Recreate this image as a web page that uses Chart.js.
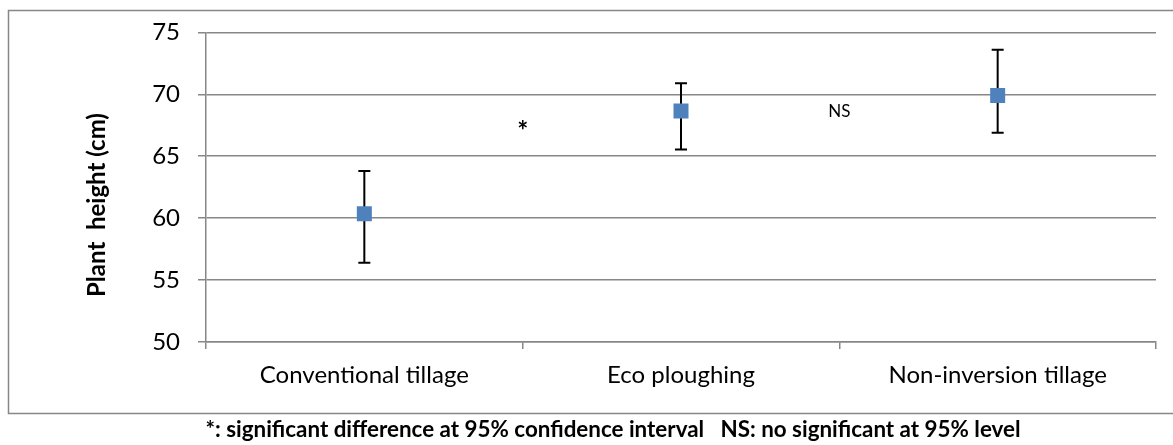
<!DOCTYPE html>
<html>
<head>
<meta charset="utf-8">
<script src="https://cdn.jsdelivr.net/npm/chart.js@4.4.1/dist/chart.umd.min.js"></script>
<style>
  html, body { margin: 0; padding: 0; background: #fff; }
</style>
</head>
<body>
<canvas id="heightChart" width="1173" height="445"></canvas>
<script>
const treatments = ["Conventional tillage", "Eco ploughing", "Non-inversion tillage"];
const meanHeight = [60.35, 68.65, 69.9];
const upperBound = [63.8, 70.9, 73.6];
const lowerBound = [56.4, 65.55, 66.9];
const yTicks = [50, 55, 60, 65, 70, 75];

// significance marks sit between neighbouring treatments
const sigLabels = ["*", "NS"];
const sigAt = [0.5, 1.5];
const sigLevel = [67.4, 68.65];

const yTitle = "Plant  height (cm)";
const footnote = "*: significant difference at 95% confidence interval   NS: no significant at 95% level";

const FONT = "Lato";
const GRID = "#878787";

const errorBars = {
  id: "errorBars",
  beforeDatasetsDraw(chart) {
    const { ctx, scales: { x, y } } = chart;
    ctx.save();
    ctx.strokeStyle = "#000";
    ctx.lineWidth = 2;
    meanHeight.forEach((_, i) => {
      const px = x.getPixelForValue(i);
      const top = y.getPixelForValue(upperBound[i]);
      const bot = y.getPixelForValue(lowerBound[i]);
      ctx.beginPath();
      ctx.moveTo(px, top);
      ctx.lineTo(px, bot);
      ctx.moveTo(px - 6, top);
      ctx.lineTo(px + 6, top);
      ctx.moveTo(px - 6, bot);
      ctx.lineTo(px + 6, bot);
      ctx.stroke();
    });
    ctx.restore();
  },
};

const frameAndNotes = {
  id: "frameAndNotes",
  beforeDraw(chart) {
    const { ctx, width } = chart;
    ctx.save();
    ctx.strokeStyle = GRID;
    ctx.lineWidth = 1.5;
    ctx.strokeRect(8.5, 10.5, width + 10, 403);
    ctx.restore();
  },
  afterDraw(chart) {
    const { ctx, scales: { x, y } } = chart;
    ctx.save();
    ctx.fillStyle = "#000";
    ctx.textAlign = "center";
    ctx.textBaseline = "middle";

    sigLabels.forEach((txt, i) => {
      ctx.font = txt === "*" ? `bold 26px ${FONT}` : `17px ${FONT}`;
      const dy = txt === "*" ? 5 : 0;
      ctx.fillText(txt, x.getPixelForValue(sigAt[i]), y.getPixelForValue(sigLevel[i]) + dy);
    });

    ctx.font = `bold 24px ${FONT}`;
    ctx.save();
    ctx.translate(97, 205);
    ctx.rotate(-Math.PI / 2);
    ctx.fillText(yTitle, 0, 0);
    ctx.restore();

    ctx.font = `bold 22.4px ${FONT}`;
    ctx.fillText(footnote, 613, 430);
    ctx.restore();
  },
};

new Chart(document.getElementById("heightChart"), {
  type: "line",
  data: {
    labels: treatments,
    datasets: [
      {
        data: meanHeight,
        showLine: false,
        pointStyle: "rect",
        pointRadius: 10.6,
        pointHoverRadius: 10.6,
        pointBackgroundColor: "#4F81BD",
        pointBorderColor: "#4F81BD",
        pointBorderWidth: 0,
      },
    ],
  },
  options: {
    responsive: false,
    animation: false,
    devicePixelRatio: 1,
    layout: { padding: { top: 32, right: 17, bottom: 0, left: 0 } },
    plugins: {
      legend: { display: false },
      tooltip: { enabled: false },
    },
    scales: {
      x: {
        offset: true,
        afterFit: (s) => { s.height = 103; },
        grid: { drawOnChartArea: false, offset: true, tickLength: 7, color: GRID, lineWidth: 1.5 },
        border: { color: GRID, width: 1.5 },
        ticks: { padding: 12, color: "#000", font: { family: FONT, size: 24 } },
      },
      y: {
        min: 50,
        max: 75,
        afterBuildTicks: (s) => { s.ticks = yTicks.map((v) => ({ value: v })); },
        afterFit: (s) => { s.width = 206; },
        grid: { color: GRID, lineWidth: 1.5, tickLength: 8 },
        border: { color: GRID, width: 1.5 },
        ticks: { padding: 18, color: "#000", font: { family: FONT, size: 24 } },
      },
    },
  },
  plugins: [errorBars, frameAndNotes],
});
</script>
</body>
</html>
